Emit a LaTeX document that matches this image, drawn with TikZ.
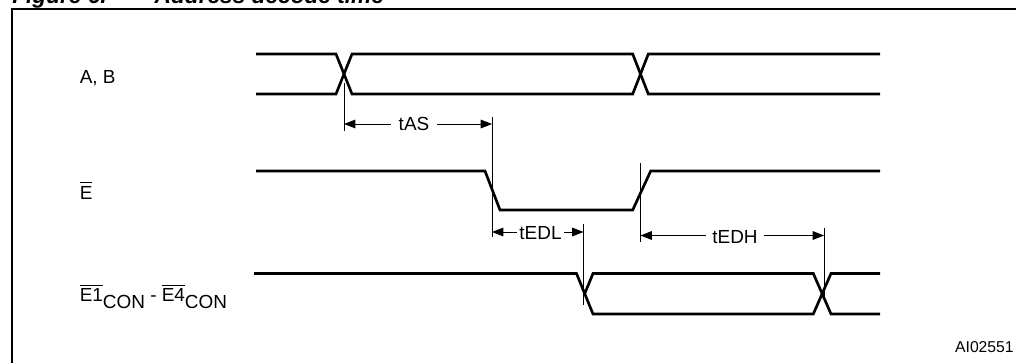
\documentclass[tikz,border=0pt]{standalone}
\usepackage{fontspec}
\setmainfont{Liberation Sans}
\usetikzlibrary{arrows.meta}
\newcommand\ovl[1]{\leavevmode\vbox{\hrule height 0.7pt\kern 2pt\hbox{#1}}}
\newcommand\subcon{\raisebox{-4.8pt}{CON}}
\begin{document}
\begin{tikzpicture}[x=0.75pt,y=-0.75pt,
  sig/.style={line width=2pt,line join=miter},
  dimline/.style={line width=0.7pt},
  dimarrow/.style={line width=0.7pt,{Triangle[length=8.5pt,width=6.5pt]}-{Triangle[length=8.5pt,width=6.5pt]}},
  lbl/.style={font=\fontsize{14.2}{16}\selectfont,inner sep=0pt,anchor=base west},
  dimlbl/.style={font=\fontsize{14.2}{16}\selectfont,fill=white,inner ysep=0pt,anchor=base},
  titlefont/.style={font=\fontsize{17}{20}\selectfont\bfseries\itshape,inner sep=0pt,anchor=base west}]
\useasboundingbox (0,0) rectangle (1016,362);
% title (cut off at top)
\node[titlefont] (title) at (12,3) {Figure 6.\hspace{36pt}Address decode time};
% frame
\draw[line width=1.5pt] (12,9) rectangle (1040,390);
% labels
\node[lbl] (lab) at (79.5,83.3) {A, B};
\node[lbl] (le) at (79.5,199) {\ovl{E}};
\node[lbl] (lecon) at (79.5,301.7) {\ovl{E1}\subcon{} - \ovl{E4}\subcon};
\node[font=\fontsize{11.8}{13}\selectfont,inner sep=0pt,anchor=base east] (code) at (1014,352.3) {AI02551};
% A, B signal
\draw[sig] (256,54) -- (336,54) -- (352,94) -- (632.7,94) -- (648.3,54) -- (880,54);
\draw[sig] (256,94) -- (336,94) -- (352,54) -- (632.7,54) -- (648.3,94) -- (880,94);
% E signal
\draw[sig] (256,171) -- (485,171) -- (500,210) -- (632.7,210) -- (650.7,171) -- (880,171);
% E1CON - E4CON signal
\draw[sig] (254,273.5) -- (576.5,273.5) -- (593,314) -- (813.3,314) -- (831,273.5) -- (880,273.5);
\draw[sig] (584.7,293.7) -- (593,273.5) -- (813.3,273.5) -- (831,314) -- (880,314);
% extension lines
\coordinate (as1) at (344,124);
\coordinate (as2) at (492,124);
\coordinate (dl1) at (492,232);
\coordinate (dl2) at (583.5,232);
\coordinate (dh1) at (640.5,235.5);
\coordinate (dh2) at (824,235.5);
\draw[dimline] (344,83) -- (344,131);
\draw[dimline] (492,117) -- (492,237);
\draw[dimline] (583.5,224) -- (583.5,305);
\draw[dimline] (640.5,163) -- (640.5,242);
\draw[dimline] (824,228) -- (824,300);
% dimension arrows
\draw[dimarrow] (as1) -- (as2);
\node[dimlbl,inner xsep=6pt] (tas) at (414,130.7) {tAS};
\draw[dimarrow] (dl1) -- (dl2);
\node[dimlbl,inner xsep=2pt] (tedl) at (540.5,239) {tEDL};
\draw[dimarrow] (dh1) -- (dh2);
\node[dimlbl,inner xsep=4.5pt] (tedh) at (735,243) {tEDH};
\end{tikzpicture}
\end{document}
